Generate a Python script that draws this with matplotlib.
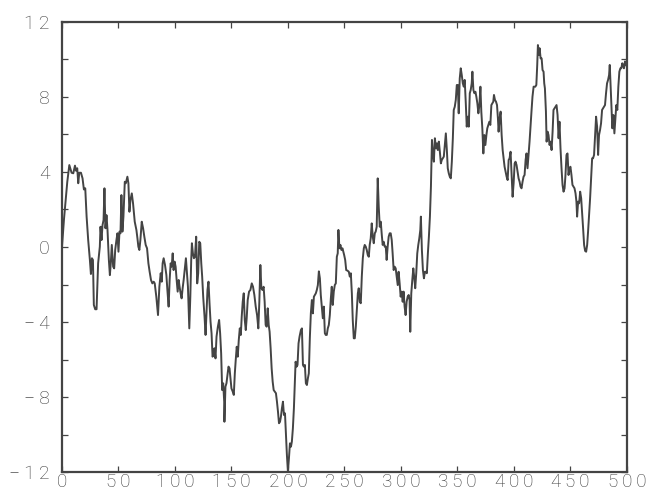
import matplotlib
matplotlib.use("Agg")
import matplotlib.pyplot as plt
from matplotlib.ticker import MultipleLocator

# walk readings: step index and value
steps_a = [0, 1.8, 4.7, 6.5, 8.5, 10, 11.5, 12.4, 13.5, 14.4, 15.3, 16.8, 18.2, 19.4,
           20.6, 21.8, 23.2, 24.7, 25.6, 26.5, 27.4, 28.2, 29.4, 30.6, 32, 33.5, 34.1,
           35, 35.9, 36.8, 37.6, 38.5, 39.4, 40.3, 41.5, 42.4, 43.2, 44.1, 45.3, 46.2,
           47.1, 48.2, 49.1, 50, 50.9, 51.8, 52.6, 53.5, 54.4, 55.6, 56.5, 57.9, 58.8,
           59.7, 60.6, 61.8, 62.9, 64.4, 65.9, 66.8, 67.6, 68.5, 69.4, 70.6, 71.8, 72.9,
           74.1, 75.3, 76.5, 77.6, 78.8, 80, 81.2]
walk_a = [0.0, 1.5, 3.48, 4.37, 3.96, 3.93, 4.34, 4.07, 4.2, 3.4, 3.96, 3.96, 3.66, 3.07,
          3.13, 1.62, 0.37, -0.69, -1.44, -0.6, -0.69, -3.09, -3.32, -3.32, -0.87, 0.02,
          1.08, 0.37, 1.17, 1.44, 3.13, 1.0, 1.7, 0.9, -0.69, -1.5, -0.87, 0.11, -1.05,
          -1.14, -0.16, 0.37, 0.73, -0.25, 0.82, 0.73, 2.77, 0.82, 1.62, 3.48, 3.4, 3.75,
          3.4, 1.88, 2.51, 2.86, 2.33, 1.35, 0.9, 0.46, 0.02, -0.16, 0.37, 1.35, 1.0, 0.55,
          0.11, -0.07, -0.87, -1.32, -1.76, -1.94, -1.85]

steps_b = [82.1, 83.5, 85, 86.2, 87.4, 88.3, 89.1, 90, 91.2, 92.4, 93.3, 94.4, 95.3, 96.2,
           97.1, 98, 98.8, 99.7, 100.6, 101.5, 102.4, 103.3, 104.1, 105, 105.9, 106.8,
           107.7, 108.6, 109.7, 110.6, 111.5, 112.7, 113.6, 114.4, 115, 115.9, 116.8,
           117.7, 118.8, 119.7, 120.6, 121.5, 122.4, 123.3, 124.1, 125, 126.2, 127.1, 128,
           128.8, 129.7, 130.6, 131.5, 132.4, 133.3, 134.1, 135, 135.9, 136.8, 138, 139.1,
           140, 140.9, 141.8, 142.7, 143.6, 143.8, 144.7, 145.6, 146.5, 147.4, 148.3,
           149.1, 150, 151.2, 152.1, 153, 153.8, 154.7, 155.6, 156.5, 157.4, 158.3, 159.1,
           160, 160.9, 161.8, 162.7, 163.5, 164.4, 165.6]
walk_b = [-1.94, -2.65, -3.63, -2.12, -1.4, -1.85, -0.87, -0.6, -0.96, -1.49, -2.29, -3.18,
          -1.76, -0.87, -1.05, -0.34, -1.23, -0.78, -1.05, -1.76, -2.38, -1.76, -2.12,
          -2.47, -2.74, -2.2, -1.76, -1.23, -0.6, -1.4, -2.12, -4.34, -2.65, -0.69, 0.2,
          -0.34, -0.6, -0.52, 0.55, -1.94, -1.4, 0.28, 0.2, -0.87, -1.58, -2.65, -3.72,
          -4.69, -3.36, -2.29, -1.85, -3.0, -3.98, -4.6, -5.85, -5.76, -5.4, -5.94, -4.78,
          -4.25, -3.89, -4.6, -5.67, -7.63, -7.27, -8.25, -9.32, -7.45, -7.27, -6.83,
          -6.38, -6.47, -7.0, -7.54, -7.72, -7.89, -6.74, -6.03, -5.32, -5.85, -4.96,
          -4.34, -4.69, -3.72, -2.92, -2.47, -3.89, -4.43, -3.8, -2.83, -2.38]

steps_c = [166.8, 168, 169.1, 170.3, 171.5, 172.7, 173.8, 174.7, 175.6, 176.5, 177.4,
           178.5, 179.4, 180.3, 181.2, 182.1, 183, 183.8, 184.7, 185.6, 186.5, 187.4,
           188.5, 189.4, 190.3, 191.2, 192.1, 193, 193.8, 194.7, 195.6, 196.5, 197.4,
           198.3, 199.1, 200, 200.9, 201.8, 202.7, 203.5, 204.4, 205.3, 206.2, 206.8,
           207.7, 208.5, 209.4, 210.3, 211.5, 212.4, 213.3, 214.1, 215, 215.9, 216.8,
           217.7, 218.5, 219.4, 220.3, 221.2, 222.1, 223, 223.8, 224.7, 225.6, 226.5,
           227.4, 228.3, 229.1, 230, 230.9, 231.8, 232.7, 233.5, 234.4, 235.3, 236.2,
           237.1, 238, 238.8, 239.7, 240.6, 241.5, 242.4, 243.3, 244.1, 244.7, 245.6,
           246.5, 247.4, 248.3]
walk_c = [-2.29, -1.94, -2.12, -2.56, -3.18, -3.63, -4.34, -2.92, -0.96, -2.2, -2.29,
          -2.12, -2.92, -4.16, -4.25, -3.27, -4.16, -4.52, -5.4, -6.47, -7.18, -7.63,
          -7.72, -7.8, -8.25, -8.78, -9.4, -9.32, -9.05, -8.6, -8.25, -8.96, -8.87,
          -10.03, -11.09, -11.98, -11.27, -10.47, -10.65, -10.38, -9.67, -8.6, -7.18,
          -6.12, -6.38, -6.29, -5.14, -4.78, -4.43, -4.34, -6.29, -6.38, -6.29, -7.27,
          -7.36, -7.0, -6.74, -4.87, -3.54, -2.83, -3.54, -2.65, -2.56, -2.47, -2.29,
          -2.03, -1.3, -1.67, -2.56, -3.18, -3.8, -3.18, -4.6, -4.69, -4.69, -4.34,
          -4.16, -3.63, -2.74, -2.12, -3.09, -2.38, -2.03, -1.94, -0.52, -0.34, 0.91,
          -0.07, 0.11, -0.16, -0.07]

steps_d = [249.8, 250.7, 251.6, 252.7, 253.9, 254.8, 255.7, 256.6, 257.4, 258.3, 259.2,
           260.1, 261, 261.9, 262.7, 263.6, 264.5, 265.4, 266.3, 267.2, 268, 268.9,
           269.8, 270.7, 271.6, 272.4, 273.3, 274.2, 275.1, 276, 276.9, 277.7, 278.6,
           279.5, 280.4, 281.3, 282.2, 283.1, 283.9, 284.8, 285.7, 286.6, 287.4, 288.3,
           289.2, 290.1, 291, 291.9, 292.7, 293.6, 294.5, 295.4, 296.3, 297.2, 298,
           298.9, 299.8, 300.7, 301.6, 302.4, 303.3, 304.2, 305.1, 306, 306.9, 307.7,
           308.3, 309.2, 310.1, 311, 311.9, 312.7, 313.6, 314.5, 315.4, 316.3, 317.2,
           317.7, 318.6, 319.5, 320.4, 321.3, 322.2, 323, 323.9, 324.8, 325.7, 326.6,
           327.5, 328.3, 329.2, 330.1, 331, 331.9, 332.7]
walk_d = [-0.43, -0.69, -1.23, -1.26, -1.32, -1.58, -1.4, -2.47, -3.89, -4.87, -4.87,
          -4.25, -3.36, -2.47, -2.2, -2.92, -3.0, -1.58, -0.6, -0.07, 0.11, 0.02, -0.16,
          -0.43, -0.52, 0.11, 0.46, 1.26, 0.55, 0.2, 0.73, 0.82, 1.08, 3.66, 2.15, 1.08,
          1.35, 0.64, 0.11, 0.28, 0.02, 0.02, -0.69, 0.02, 0.55, 0.73, 0.73, 0.37, -0.34,
          -1.23, -1.05, -1.14, -1.58, -2.03, -1.32, -1.94, -2.65, -2.38, -2.92, -2.38,
          -3.18, -3.63, -2.92, -2.65, -2.56, -2.83, -4.52, -2.47, -1.76, -1.14, -1.67,
          -2.2, -1.4, -0.34, 0.11, 0.46, 0.91, 1.62, -0.16, -1.23, -1.67, -1.32, -1.32,
          -1.4, -0.34, 0.55, 1.62, 3.22, 5.71, 4.99, 4.55, 5.8, 5.26, 5.53, 5.17]

steps_e = [333.6, 334.5, 335.4, 336.2, 337.1, 338, 338.9, 339.8, 340.7, 341.5, 342.4,
           343.3, 344.2, 345.1, 346, 346.8, 347.7, 348.6, 349.5, 350.4, 351.2, 352.1,
           353, 353.9, 354.8, 355.7, 356.5, 357.4, 358.3, 359.2, 360.1, 361, 361.8,
           362.7, 363.3, 364.2, 365.1, 366, 366.8, 367.7, 368.6, 369.5, 370.4, 371.2,
           372.1, 373, 373.9, 374.8, 375.7, 376.5, 377.4, 378.3, 379.2, 380.1, 381,
           381.8, 382.4, 383.3, 384.2, 385.1, 385.9, 386.5, 387.4, 388.3, 389.2, 390.1,
           390.9, 391.8, 392.7, 393.6, 394.5, 395.4, 396.2, 397.1, 398, 398.9, 399.8,
           400.7, 401.5, 402.4, 403.3, 404.2, 405.1, 405.9, 406.8, 407.7, 408.6, 409.5,
           410.4, 411.2, 412.1, 413, 413.9, 414.8, 415.7, 416.5]
walk_e = [5.62, 5.08, 4.46, 4.64, 4.73, 4.82, 5.44, 6.06, 5.17, 4.2, 3.93, 3.75, 3.66,
          4.55, 5.8, 7.31, 7.48, 7.84, 8.64, 8.64, 7.13, 8.99, 9.53, 9.17, 8.73, 8.55,
          8.91, 7.75, 6.42, 6.95, 6.42, 8.2, 8.37, 8.73, 9.35, 8.37, 8.2, 8.28, 8.02,
          7.66, 7.13, 7.57, 8.55, 7.22, 6.33, 4.99, 5.97, 5.44, 5.97, 6.33, 6.51, 6.68,
          6.51, 7.57, 7.66, 7.75, 8.11, 7.84, 7.75, 7.57, 6.86, 6.15, 6.86, 7.22, 5.97,
          5.17, 4.73, 4.28, 4.02, 3.75, 3.57, 4.64, 4.73, 5.08, 3.84, 2.68, 3.4, 4.46,
          4.55, 4.37, 4.02, 3.66, 3.48, 3.22, 3.13, 3.48, 3.75, 3.84, 4.64, 4.99, 4.2,
          4.91, 5.62, 6.51, 7.31, 8.02]

steps_f = [417.5, 419, 419.9, 420.7, 421.3, 422.2, 422.8, 423.7, 424.6, 425.4, 426.3,
           426.9, 427.5, 428.4, 429, 429.9, 430.7, 431.6, 432.5, 433.4, 434.3, 435.1,
           436, 436.9, 437.8, 438.7, 439.6, 440.4, 441.3, 442.2, 443.1, 444, 444.9,
           445.7, 446.6, 447.5, 448.4, 449.3, 450.1, 451, 451.9, 452.8, 453.7, 454.6,
           455.4, 456, 456.9, 457.8, 458.7, 459.6, 460.4, 461.3, 462.2, 463.1, 464,
           464.9, 465.7, 466.6, 467.5, 468.4, 469.3, 470.1, 471, 471.9, 472.8, 473.7,
           474.6, 475.4, 476.3, 477.2, 478.1, 479, 479.9, 480.7, 481.6, 482.5, 483.4,
           484.3, 484.9, 485.4, 486.3, 487.2, 488.1, 489, 489.9, 490.7, 491.6, 492.5,
           493.4, 494.3, 495.1, 496, 496.9, 497.5, 498.4, 499]
walk_f = [8.55, 8.55, 8.64, 9.71, 10.77, 10.24, 10.6, 10.06, 10.06, 9.44, 9.35, 8.73,
          8.46, 7.22, 5.62, 6.15, 5.97, 5.44, 5.62, 5.17, 6.15, 7.31, 7.4, 7.48, 7.57,
          7.04, 5.8, 6.68, 5.26, 4.2, 3.31, 2.95, 3.13, 3.84, 4.91, 4.99, 3.84, 4.2,
          4.28, 3.84, 3.31, 3.22, 3.13, 2.86, 2.42, 1.62, 2.42, 2.33, 2.95, 2.6, 1.88,
          1.0, 0.11, -0.21, -0.25, 0.11, 0.82, 1.71, 2.6, 3.66, 4.73, 4.73, 4.91, 5.97,
          6.95, 6.42, 4.91, 5.97, 6.24, 6.6, 7.31, 7.4, 7.48, 7.57, 8.2, 8.73, 8.91,
          9.17, 9.71, 9.0, 7.75, 6.33, 7.04, 6.06, 6.86, 7.57, 7.31, 8.55, 9.35, 9.53,
          9.53, 9.8, 9.62, 9.53, 9.9, 9.7]

steps = steps_a + steps_b + steps_c + steps_d + steps_e + steps_f
walk = walk_a + walk_b + walk_c + walk_d + walk_e + walk_f

x_ticks = [0, 50, 100, 150, 200, 250, 300, 350, 400, 450, 500]
y_ticks = [-12, -8, -4, 0, 4, 8, 12]


def spaced(v):
    # loose tracking between the digits of a tick label
    s = '\u2212' + str(-v) if v < 0 else str(v)
    return '\u2009'.join(s)


plt.rcParams['font.family'] = ['Roboto', 'DejaVu Sans']
dark = '#444444'

fig = plt.figure(figsize=(6.47, 5.0), dpi=100)
ax = fig.add_axes([0.0958, 0.056, 0.873, 0.9])
ax.plot(steps, walk, color=dark, lw=1.4)

ax.set_xlim(0, 500)
ax.set_ylim(-12, 12)
ax.set_xticks(x_ticks)
ax.set_yticks(y_ticks)
ax.yaxis.set_minor_locator(MultipleLocator(2))
ax.set_xticklabels([spaced(v) for v in x_ticks])
ax.set_yticklabels([spaced(v) for v in y_ticks])

for s in ax.spines.values():
    s.set_color(dark)
    s.set_linewidth(1.6)

ax.tick_params(which='both', direction='in', length=4, width=0.9, color=dark,
               top=True, right=True)
ax.tick_params(axis='x', pad=1)
ax.tick_params(axis='y', pad=9)
for lab in ax.get_yticklabels():
    lab.set_fontsize(14)
for lab in ax.get_xticklabels():
    lab.set_fontsize(13.5)
for lab in ax.get_xticklabels() + ax.get_yticklabels():
    lab.set_fontweight('light')
    lab.set_color('#3a3a3a')

fig.savefig('out.png', dpi=100)
